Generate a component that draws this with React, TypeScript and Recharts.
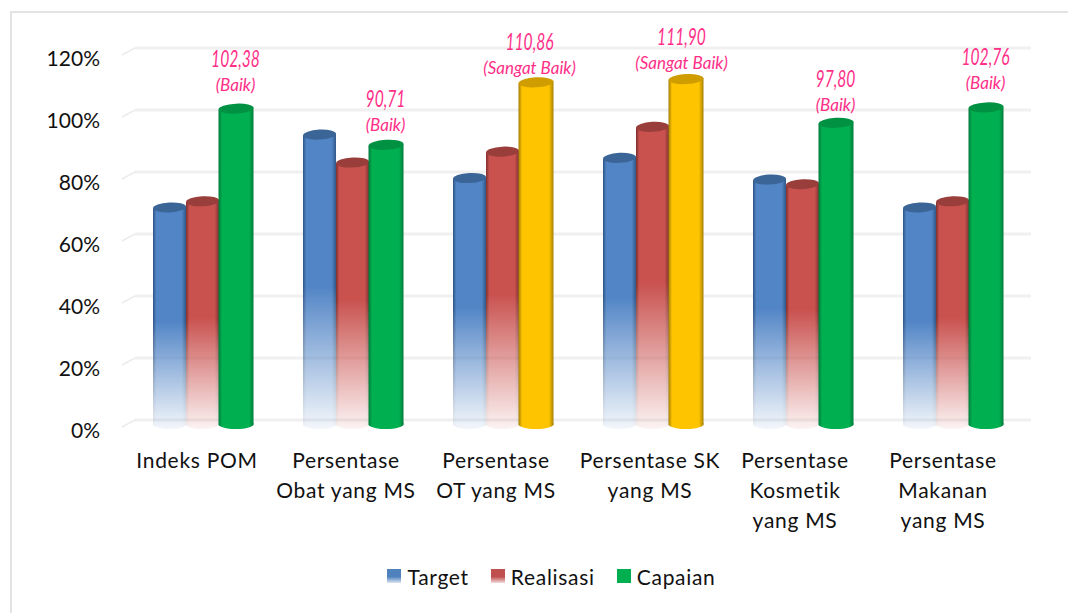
import { BarChart, Bar, XAxis, YAxis, CartesianGrid, Legend, LabelList } from 'recharts';

const categories = [
  ['Indeks POM'],
  ['Persentase', 'Obat yang MS'],
  ['Persentase', 'OT yang MS'],
  ['Persentase SK', 'yang MS'],
  ['Persentase', 'Kosmetik', 'yang MS'],
  ['Persentase', 'Makanan', 'yang MS'],
];
const target = [70.5, 94, 80, 86.5, 79.5, 70.5];
const realisasi = [72.5, 85, 88.5, 96.5, 78, 72.5];
const capaian = [102.38, 90.71, 110.86, 111.9, 97.8, 102.76];
const capaianText = ['102,38', '90,71', '110,86', '111,90', '97,80', '102,76'];
const status = ['Baik', 'Baik', 'Sangat Baik', 'Sangat Baik', 'Baik', 'Baik'];
const yTicks = [0, 20, 40, 60, 80, 100, 120];

const FONT = 'Lato, "Open Sans", sans-serif';
const PINK = '#ff2f88';

// side shading + darker cap for each bar colour
const TONES: Record<string, { mid: string; edge: string; cap: string }> = {
  blue: { mid: '#5285c6', edge: '#2d5484', cap: '#3c6597' },
  red: { mid: '#c9524f', edge: '#7d2f2d', cap: '#993e3b' },
  green: { mid: '#00b050', edge: '#00793a', cap: '#019142' },
  yellow: { mid: '#ffc400', edge: '#a27c06', cap: '#cf9d00' },
};

// small nudges so the hand placed labels sit like the original
const labelNudgeX = [0, 0, -6, -4, 0, 0];
const labelNudgeY = [-5, -1, 5, 3, 1, -5];
const tickNudgeX = [-6, -7, -7, -3, -8, -10];

const chartData = categories.map((lines, i) => ({
  name: lines.join(' '),
  target: target[i],
  realisasi: realisasi[i],
  capaian: capaian[i],
}));

function Cylinder({ x, y, width, height, tone, fade }: any) {
  const t = TONES[tone];
  const ry = 5;
  const bottom = y + height;
  const capY = y + 1;
  const body = `M${x},${capY + 1} L${x},${bottom} A${width / 2},${ry} 0 0 0 ${x + width},${bottom - 2} L${x + width},${capY - 1} Z`;
  return (
    <g mask={fade ? 'url(#fadeDown)' : undefined}>
      <path d={body} fill={`url(#side-${tone})`} />
      <ellipse
        cx={x + width / 2}
        cy={capY}
        rx={width / 2}
        ry={ry}
        fill={t.cap}
        transform={`rotate(-3 ${x + width / 2} ${capY})`}
      />
    </g>
  );
}

function CapaianLabel({ x, width, y, index }: any) {
  const cx = x + width / 2 + labelNudgeX[index];
  const top = y + labelNudgeY[index];
  return (
    <g fill={PINK} fontFamily={FONT} fontStyle="italic" textAnchor="middle">
      <text transform={`translate(${cx} ${top - 36}) scale(0.68 1)`} fontSize={23}>{capaianText[index]}</text>
      <text x={cx} y={top - 12} fontSize={17}>({status[index]})</text>
    </g>
  );
}

function CategoryTick({ x, y, index }: any) {
  const tx = x + tickNudgeX[index];
  return (
    <text x={tx} y={y + 37} textAnchor="middle" fontFamily={FONT} fontSize={21} letterSpacing={0.7} fill="#111">
      {categories[index].map((line, i) => (
        <tspan key={i} x={tx} dy={i === 0 ? 0 : 30}>{line}</tspan>
      ))}
    </text>
  );
}

function PercentTick({ x, y, payload }: any) {
  return (
    <text x={x} y={y + 13} textAnchor="end" fontFamily={FONT} fontSize={21} fill="#111">
      {payload.value}%
    </text>
  );
}

// the walls of the 3d chart sit a little up and to the right of the bars
function BackGridLine({ x1, x2, y1 }: any) {
  return (
    <g fill="none">
      <line x1={x1 + 7} x2={x2 + 3} y1={y1 - 5} y2={y1 - 5} stroke="#f0f0f0" strokeWidth={3} />
      <line x1={x1 - 6} x2={x1 + 7} y1={y1 + 2} y2={y1 - 5} stroke="#ececec" strokeWidth={1.5} />
    </g>
  );
}

const legendItems = [
  { label: 'Target', swatch: 'url(#legendBlue)' },
  { label: 'Realisasi', swatch: 'url(#legendRed)' },
  { label: 'Capaian', swatch: TONES.green.mid },
];

function ChartLegend() {
  return (
    <div style={{ display: 'flex', justifyContent: 'center', alignItems: 'center', gap: 22, fontFamily: FONT, fontSize: 21, letterSpacing: 0.7, color: '#111', height: 30, paddingLeft: 75 }}>
      {legendItems.map((item, i) => (
        <span key={i} style={{ display: 'flex', alignItems: 'center', gap: 6 }}>
          <svg width={14} height={14}>
            <rect width={14} height={14} fill={item.swatch} />
          </svg>
          {item.label}
        </span>
      ))}
    </div>
  );
}

export default function App() {
  return (
    <div style={{ position: 'absolute', left: 0, top: 0, width: 1068, height: 613, background: '#fff', overflow: 'hidden' }}>
      <div style={{ position: 'absolute', left: 10, top: 11, width: 1058, height: 602, borderLeft: '2px solid #e3e3e3', borderTop: '2px solid #e3e3e3' }} />
      <svg width={0} height={0} style={{ position: 'absolute' }}>
        <defs>
          <linearGradient id="legendBlue" x1="0" y1="0" x2="0" y2="1">
            <stop offset="0.55" stopColor="#4f81bd" />
            <stop offset="1" stopColor="#4f81bd" stopOpacity={0.2} />
          </linearGradient>
          <linearGradient id="legendRed" x1="0" y1="0" x2="0" y2="1">
            <stop offset="0.55" stopColor="#c0504d" />
            <stop offset="1" stopColor="#c0504d" stopOpacity={0.2} />
          </linearGradient>
        </defs>
      </svg>
      <BarChart
        width={1068}
        height={613}
        data={chartData}
        margin={{ top: 53, right: 40, bottom: 22, left: 0 }}
        barCategoryGap="16.67%"
        barGap={0}
        style={{ position: 'absolute', left: 0, top: 0 }}
      >
        <defs>
          {Object.entries(TONES).map(([key, t]) => (
            <linearGradient key={key} id={`side-${key}`} x1="0" y1="0" x2="1" y2="0">
              <stop offset="0" stopColor={t.edge} />
              <stop offset="0.1" stopColor={t.mid} />
              <stop offset="0.86" stopColor={t.mid} />
              <stop offset="1" stopColor={t.edge} />
            </linearGradient>
          ))}
          <linearGradient id="fadeGrad" x1="0" y1="0" x2="0" y2="1">
            <stop offset="0.5" stopColor="#fff" />
            <stop offset="0.97" stopColor="#fff" stopOpacity={0.03} />
          </linearGradient>
          <mask id="fadeDown" maskContentUnits="objectBoundingBox" x="-0.1" y="-0.1" width="1.2" height="1.2">
            <rect x="0" y="0" width="1" height="1.05" fill="url(#fadeGrad)" />
          </mask>
        </defs>
        <CartesianGrid vertical={false} horizontal={(props: any) => <BackGridLine key={props.key} {...props} />} />
        <XAxis
          dataKey="name"
          height={136}
          interval={0}
          axisLine={false}
          tickLine={false}
          tick={(props: any) => <CategoryTick {...props} />}
          tickMargin={0}
        />
        <YAxis
          width={128}
          domain={[0, 120]}
          ticks={yTicks}
          axisLine={false}
          tickLine={false}
          tickMargin={0}
          tick={(props: any) => <PercentTick {...props} x={100} y={props.y} />}
        />
        <Legend height={30} content={() => <ChartLegend />} />
        <Bar
          dataKey="target"
          isAnimationActive={false}
          shape={(props: any) => <Cylinder {...props} tone="blue" fade />}
        />
        <Bar
          dataKey="realisasi"
          isAnimationActive={false}
          shape={(props: any) => <Cylinder {...props} tone="red" fade />}
        />
        <Bar
          dataKey="capaian"
          isAnimationActive={false}
          shape={(props: any) => (
            <Cylinder
              {...props}
              x={props.x - 0.5}
              width={props.width + 2}
              tone={status[props.index] === 'Sangat Baik' ? 'yellow' : 'green'}
            />
          )}
        >
          <LabelList dataKey="capaian" content={(props: any) => <CapaianLabel {...props} />} />
        </Bar>
      </BarChart>
    </div>
  );
}
